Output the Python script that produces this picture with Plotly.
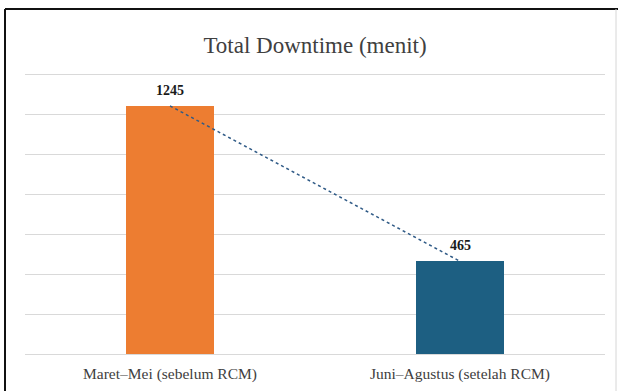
import plotly.graph_objects as go

# Downtime totals before and after RCM
periods = ["Maret–Mei (sebelum RCM)", "Juni–Agustus (setelah RCM)"]
downtime = [1245, 465]
bar_colors = ["#ED7D31", "#1D5F82"]
grid_vals = [0, 200, 400, 600, 800, 1000, 1200, 1400]

W, H = 618, 391
ML, MR, MT, MB = 25, 13, 69, 37

fig = go.Figure()

fig.add_trace(go.Bar(
    x=periods, y=downtime,
    marker=dict(color=bar_colors, line=dict(width=0)),
    width=0.305,
    showlegend=False,
    hoverinfo="x+y",
))

# Linear trend line across the two periods
fig.add_trace(go.Scatter(
    x=periods, y=downtime,
    mode="lines",
    line=dict(color="#2F5A86", width=1.5, dash="dot"),
    showlegend=False,
    hoverinfo="skip",
))

for p, v in zip(periods, downtime):
    fig.add_annotation(
        x=p, y=v, text=f"<b>{v}</b>", showarrow=False,
        yanchor="bottom", yshift=6,
        font=dict(family="Liberation Serif", size=14, color="#1a1a1a"),
    )

# Outer frame (left and top edges visible)
pw = W - ML - MR
ph = H - MT - MB
def px(x):
    return (x - ML) / pw
def py(y):
    return (H - MB - y) / ph

fig.add_shape(type="line", xref="paper", yref="paper",
              x0=px(5), x1=px(5), y0=py(9), y1=py(400),
              line=dict(color="#111111", width=2))
fig.add_shape(type="line", xref="paper", yref="paper",
              x0=px(5), x1=px(620), y0=py(9), y1=py(9),
              line=dict(color="#111111", width=2))
fig.add_shape(type="line", xref="paper", yref="paper",
              x0=px(616), x1=px(616), y0=py(9), y1=py(400),
              line=dict(color="#d6d6d6", width=1))

fig.update_layout(
    width=W, height=H,
    margin=dict(l=ML, r=MR, t=MT, b=MB),
    paper_bgcolor="white",
    plot_bgcolor="white",
    title=dict(
        text="Total Downtime (menit)",
        x=0.5, xref="paper", xanchor="center",
        y=1 - 45 / H, yanchor="middle",
        font=dict(family="Liberation Serif", size=23, color="#404040"),
    ),
    bargap=0.0,
    xaxis=dict(
        showline=False, showgrid=False, ticks="",
        automargin=False,
        ticklabelstandoff=8,
        tickfont=dict(family="Liberation Serif", size=15.5, color="#404040"),
    ),
    yaxis=dict(
        range=[0, 1430], tickvals=grid_vals,
        showticklabels=False, automargin=False,
        showgrid=True, gridcolor="#d9d9d9", gridwidth=1,
        zeroline=True, zerolinecolor="#d9d9d9", zerolinewidth=1,
        showline=False, ticks="",
    ),
)

fig.write_html("out.html")
